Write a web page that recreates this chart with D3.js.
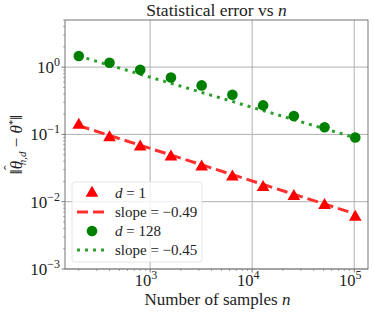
<!DOCTYPE html>
<html>
<head>
<meta charset="utf-8">
<script src="https://cdn.jsdelivr.net/npm/d3@7"></script>
<style>
    body { margin: 0; background: #fff; }
    svg { font-family: "Liberation Serif", "DejaVu Serif", serif; }
</style>
</head>
<body>
<div class="container"></div>
<script>
// data
var nSamples = [200, 400, 800, 1600, 3200, 6400, 12800, 25600, 51200, 102400];
var errD1 = [0.137, 0.090, 0.0654, 0.0465, 0.033, 0.0234, 0.0163, 0.012, 0.0088, 0.0059];
var errD128 = [1.46, 1.16, 0.91, 0.70, 0.535, 0.388, 0.27, 0.187, 0.128, 0.090];
var fitN = [200, 102400];
var fitD1 = [0.135, 0.0066];
var fitD128 = [1.46, 0.089];
var xTicks = [3, 4, 5];
var yTicks = [-3, -2, -1, 0];
var legendLabels = ["d = 1", "slope = \u22120.49", "d = 128", "slope = \u22120.45"];

var W = 374, H = 312;
var M = { left: 65, right: 6, top: 20, bottom: 43 };

var svg = d3.select(".container").append("svg")
    .attr("width", W).attr("height", H);

var x = d3.scaleLog()
    .domain([Math.pow(10, 2.166), Math.pow(10, 5.135)])
    .range([M.left, W - M.right]);
var y = d3.scaleLog()
    .domain([1e-3, Math.pow(10, 0.7)])
    .range([H - M.bottom, M.top]);

var plot = svg.append("g");

// minor ticks
var xMinor = [], yMinor = [];
for (var e = 2; e <= 5; e++) for (var k = 2; k <= 9; k++) {
    var v = k * Math.pow(10, e);
    if (v > x.domain()[0] && v < x.domain()[1]) xMinor.push(v);
}
for (var e = -3; e <= 0; e++) for (var k = 2; k <= 9; k++) {
    var v = k * Math.pow(10, e);
    if (v < y.domain()[1]) yMinor.push(v);
}

// grid
plot.selectAll(".gx").data(xTicks).enter().append("line")
    .attr("x1", d => x(Math.pow(10, d))).attr("x2", d => x(Math.pow(10, d)))
    .attr("y1", M.top).attr("y2", H - M.bottom)
    .attr("stroke", "#b0b0b0").attr("stroke-width", 1);
plot.selectAll(".gy").data(yTicks).enter().append("line")
    .attr("y1", d => y(Math.pow(10, d))).attr("y2", d => y(Math.pow(10, d)))
    .attr("x1", M.left).attr("x2", W - M.right)
    .attr("stroke", "#b0b0b0").attr("stroke-width", 1);

// ticks
plot.selectAll(".mx").data(xMinor).enter().append("line")
    .attr("x1", d => x(d)).attr("x2", d => x(d))
    .attr("y1", H - M.bottom).attr("y2", H - M.bottom + 2)
    .attr("stroke", "#777").attr("stroke-width", 0.6);
plot.selectAll(".my").data(yMinor).enter().append("line")
    .attr("y1", d => y(d)).attr("y2", d => y(d))
    .attr("x1", M.left).attr("x2", M.left - 2)
    .attr("stroke", "#777").attr("stroke-width", 0.6);
plot.selectAll(".tx").data(xTicks).enter().append("line")
    .attr("x1", d => x(Math.pow(10, d))).attr("x2", d => x(Math.pow(10, d)))
    .attr("y1", H - M.bottom).attr("y2", H - M.bottom + 3.5)
    .attr("stroke", "#555").attr("stroke-width", 0.8);
plot.selectAll(".ty").data(yTicks).enter().append("line")
    .attr("y1", d => y(Math.pow(10, d))).attr("y2", d => y(Math.pow(10, d)))
    .attr("x1", M.left).attr("x2", M.left - 3.5)
    .attr("stroke", "#555").attr("stroke-width", 0.8);

// tick labels
var xl = plot.selectAll(".lx").data(xTicks).enter().append("text")
    .attr("x", d => x(Math.pow(10, d)) - 4)
    .attr("y", H - M.bottom + 17)
    .attr("text-anchor", "middle")
    .attr("font-size", "16.5px").attr("fill", "#222");
xl.append("tspan").text("10");
xl.append("tspan").attr("dy", -7).attr("font-size", "12px").text(d => d);

var yl = plot.selectAll(".ly").data(yTicks).enter().append("text")
    .attr("x", M.left - 5)
    .attr("y", d => y(Math.pow(10, d)) + 6)
    .attr("text-anchor", "end")
    .attr("font-size", "17px").attr("fill", "#222");
yl.append("tspan").text("10");
yl.append("tspan").attr("dy", -7).attr("font-size", "12px")
    .text(d => d < 0 ? "\u2212" + (-d) : d);

// fit lines
var line = d3.line().x(d => x(d[0])).y(d => y(d[1]));
plot.append("path")
    .datum(d3.zip(fitN, fitD1))
    .attr("d", line).attr("fill", "none")
    .attr("stroke", "#ff3030").attr("stroke-width", 3)
    .attr("stroke-dasharray", "11,5");
plot.append("path")
    .datum(d3.zip(fitN, fitD128))
    .attr("d", line).attr("fill", "none")
    .attr("stroke", "#2ca02c").attr("stroke-width", 3)
    .attr("stroke-dasharray", "3,5");

// markers
var tri = d3.symbol().type(d3.symbolTriangle).size(70);
plot.selectAll(".red").data(d3.zip(nSamples, errD1)).enter().append("path")
    .attr("d", tri)
    .attr("transform", d => `translate(${x(d[0])},${y(d[1])})`)
    .attr("fill", "#ff0000");
plot.selectAll(".grn").data(d3.zip(nSamples, errD128)).enter().append("circle")
    .attr("cx", d => x(d[0])).attr("cy", d => y(d[1])).attr("r", 5.3)
    .attr("fill", "#008000");

// frame
plot.append("rect")
    .attr("x", M.left).attr("y", M.top)
    .attr("width", W - M.left - M.right).attr("height", H - M.top - M.bottom)
    .attr("fill", "none").attr("stroke", "#666").attr("stroke-width", 0.9);

// legend
var lg = svg.append("g").attr("transform", "translate(72,182)");
lg.append("rect").attr("width", 130).attr("height", 80).attr("rx", 3)
    .attr("fill", "#fff").attr("fill-opacity", 0.8)
    .attr("stroke", "#e0e0e0").attr("stroke-width", 0.8);
var rowY = [11, 30, 49, 68];
lg.append("path").attr("d", tri)
    .attr("transform", `translate(20,${rowY[0]})`).attr("fill", "#ff0000");
lg.append("line").attr("x1", 5).attr("x2", 33).attr("y1", rowY[1]).attr("y2", rowY[1])
    .attr("stroke", "#ff3030").attr("stroke-width", 3).attr("stroke-dasharray", "11,5");
lg.append("circle").attr("cx", 20).attr("cy", rowY[2]).attr("r", 5.3).attr("fill", "#008000");
lg.append("line").attr("x1", 5).attr("x2", 33).attr("y1", rowY[3]).attr("y2", rowY[3])
    .attr("stroke", "#2ca02c").attr("stroke-width", 3).attr("stroke-dasharray", "3,5");
var lt = lg.selectAll(".lt").data(legendLabels).enter().append("text")
    .attr("x", 43).attr("y", (d, i) => rowY[i] + 5)
    .attr("font-size", "15px").attr("fill", "#222");
lt.each(function (d) {
    var t = d3.select(this);
    if (d.charAt(0) === "d") {
        t.append("tspan").attr("font-style", "italic").text("d");
        t.append("tspan").text(d.slice(1));
    } else {
        t.text(d);
    }
});

// title
var title = svg.append("text").attr("x", (M.left + W - M.right) / 2).attr("y", 16)
    .attr("text-anchor", "middle").attr("font-size", "17.5px").attr("fill", "#222");
title.append("tspan").text("Statistical error vs ");
title.append("tspan").attr("font-style", "italic").text("n");

// x label
var xlab = svg.append("text").attr("x", (M.left + W - M.right) / 2 + 1).attr("y", 305)
    .attr("text-anchor", "middle").attr("font-size", "17px").attr("fill", "#222");
xlab.append("tspan").text("Number of samples ");
xlab.append("tspan").attr("font-style", "italic").text("n");

// y label
var ylab = svg.append("text")
    .attr("transform", `translate(22,${(M.top + H - M.bottom) / 2}) rotate(-90)`)
    .attr("text-anchor", "middle").attr("font-size", "17px").attr("fill", "#222");
ylab.append("tspan").text("\u2016");
ylab.append("tspan").attr("font-style", "italic").text("\u03b8");
ylab.append("tspan").attr("dx", -9).attr("dy", -8).attr("font-size", "14px").text("\u02c6");
ylab.append("tspan").attr("font-style", "italic").attr("font-size", "11px").attr("dy", 12).text("n,d");
ylab.append("tspan").attr("dy", -4).text(" \u2212 ");
ylab.append("tspan").attr("font-style", "italic").text("\u03b8");
ylab.append("tspan").attr("font-size", "11px").attr("dy", -6).text("*");
ylab.append("tspan").attr("dy", 6).text("\u2016");
</script>
</body>
</html>
